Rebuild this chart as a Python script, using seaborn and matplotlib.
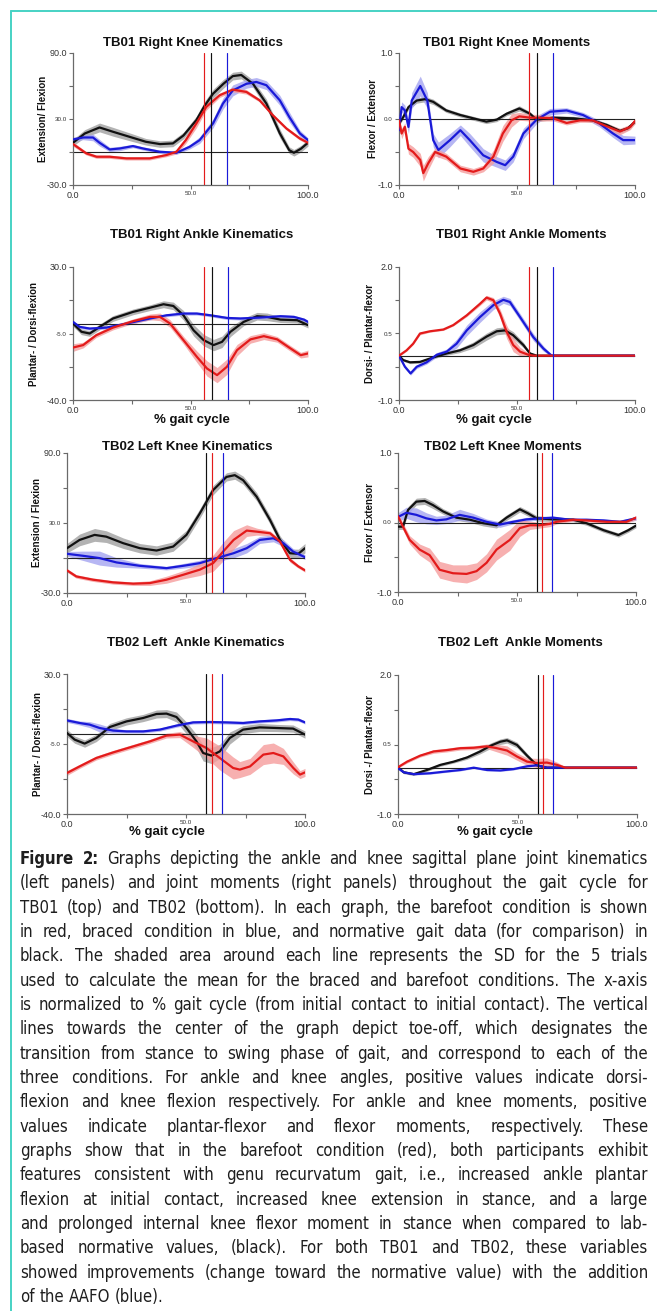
import numpy as np
import matplotlib
matplotlib.use("Agg")
import matplotlib.pyplot as plt
import seaborn as sns
from matplotlib import font_manager
from matplotlib.font_manager import FontProperties
from matplotlib.lines import Line2D

# ---------------- data ----------------
# TB01 right knee kinematics (deg)
k1_ang_black_x = [0, 5, 11.3, 17, 25, 31, 37, 42.5, 47, 52.5, 56, 59.6, 64, 68, 71.6, 76.6, 82.3, 88, 92, 94, 97, 100]
k1_ang_black_y = [8.4, 16.8, 22.3, 18.4, 13.2, 9.3, 7.2, 7.8, 15, 29, 42, 53, 62, 69, 70, 62, 44, 17, 1.7, -0.7, 3, 8.4]
k1_ang_black_sd = [3, 3.5, 4, 4, 3.5, 3, 3, 3, 3, 3.5, 4, 4, 4, 3.5, 3.5, 3.5, 4, 4, 3, 3, 3, 3]
k1_ang_red_x = [0, 5.7, 10, 15.6, 22.7, 32.6, 39.7, 44, 48, 52.5, 56.7, 62.4, 68, 73.8, 79.4, 85, 90.8, 96.5, 100]
k1_ang_red_y = [7.2, -1.3, -4.3, -4.3, -5.8, -5.8, -2.8, 0.2, 10.8, 26, 41, 51.6, 56.7, 54.6, 47, 33.5, 21.4, 12.3, 8.4]
k1_ang_red_sd = [2, 1.5, 1.5, 1.5, 1.5, 1.5, 1.5, 2, 3, 4, 3, 2, 2, 2, 1.5, 1.5, 1.5, 1.5, 1.5]
k1_ang_blue_x = [0, 4.3, 8.5, 11.3, 15.6, 19.9, 25.5, 29.8, 36.9, 44, 49.6, 53.9, 59.6, 63.8, 68, 73.8, 78, 82.3, 88, 92, 96.5, 100]
k1_ang_blue_y = [11.4, 13.2, 13.2, 8.4, 2.3, 3.2, 5.4, 3.2, 0.2, -0.7, 4.7, 10.8, 26, 44, 56, 62, 63.7, 60.7, 47, 32, 17, 10.8]
k1_ang_blue_sd = [2, 2, 3, 3, 2, 2, 1.5, 1.5, 1.5, 1.5, 2, 3, 4, 5, 5, 4, 4, 4, 4.5, 4.5, 3, 2]

# TB01 right knee moments
k1_mom_black_x = [0, 1.8, 4, 7.5, 11, 14.5, 20, 26, 31.5, 37, 41.4, 45.6, 51, 55.5, 58.3, 65.4, 74, 82, 88, 93.6, 97, 100]
k1_mom_black_y = [-0.07, 0.03, 0.18, 0.28, 0.30, 0.26, 0.13, 0.06, 0.01, -0.04, -0.01, 0.08, 0.16, 0.08, -0.01, 0.02, 0.01, -0.02, -0.09, -0.18, -0.14, -0.04]
k1_mom_black_sd = [0.03, 0.03, 0.04, 0.04, 0.04, 0.04, 0.03, 0.03, 0.03, 0.03, 0.03, 0.03, 0.04, 0.03, 0.03, 0.03, 0.03, 0.03, 0.03, 0.03, 0.03, 0.03]
k1_mom_red_x = [0, 1.1, 2.5, 4, 6, 9, 10.3, 12.4, 15.3, 20, 26, 31.5, 35.7, 40, 44, 47.7, 51, 55.5, 59.7, 65.4, 71, 76.7, 82, 88, 93.6, 98, 100]
k1_mom_red_y = [-0.02, -0.22, -0.12, -0.45, -0.50, -0.62, -0.82, -0.67, -0.50, -0.57, -0.75, -0.80, -0.75, -0.57, -0.22, -0.02, 0.04, 0.02, 0.02, 0.01, -0.06, -0.02, -0.02, -0.11, -0.19, -0.12, -0.03]
k1_mom_red_sd = [0.05, 0.08, 0.06, 0.08, 0.08, 0.1, 0.12, 0.1, 0.06, 0.05, 0.05, 0.05, 0.05, 0.1, 0.12, 0.1, 0.06, 0.05, 0.05, 0.04, 0.03, 0.03, 0.03, 0.04, 0.05, 0.04, 0.04]
k1_mom_blue_x = [0, 1.1, 2.5, 4, 5.4, 9, 12, 14.5, 16.7, 21.6, 26, 30, 35.7, 41.4, 45, 48.4, 52.7, 58.3, 64, 71, 78, 85, 90.7, 95, 100]
k1_mom_blue_y = [-0.17, 0.18, 0.13, -0.12, 0.28, 0.50, 0.28, -0.32, -0.47, -0.32, -0.17, -0.32, -0.55, -0.65, -0.70, -0.57, -0.22, -0.01, 0.11, 0.13, 0.06, -0.07, -0.22, -0.32, -0.32]
k1_mom_blue_sd = [0.06, 0.08, 0.08, 0.1, 0.12, 0.15, 0.12, 0.1, 0.12, 0.1, 0.08, 0.1, 0.1, 0.08, 0.08, 0.08, 0.08, 0.06, 0.05, 0.04, 0.04, 0.05, 0.06, 0.07, 0.06]

# TB01 right ankle kinematics (deg)
a1_ang_black_x = [0, 3.6, 7.1, 11.4, 17, 25.6, 32.8, 38.5, 42.7, 47, 51.3, 55.6, 59.8, 63.4, 67, 72.6, 78.3, 82.6, 88.3, 95.4, 100]
a1_ang_black_y = [0.25, -4.1, -5, -1.5, 2.9, 6.4, 8.6, 10.4, 9.5, 4.6, -3.3, -8.5, -11.1, -9.4, -4.1, 1.1, 4.1, 3.75, 2.3, 2.0, -0.6]
a1_ang_black_sd = [1.5, 1.5, 1.5, 1.5, 1.5, 1.5, 1.5, 1.8, 2, 2.5, 3, 3, 3, 3, 2.5, 2, 2, 2, 1.5, 1.5, 1.5]
a1_ang_red_x = [0, 4.3, 9.9, 17, 25.6, 32.8, 37, 41.3, 47, 52.7, 57, 61.3, 65.5, 69.8, 75.5, 81.2, 86.9, 92.6, 96.9, 100]
a1_ang_red_y = [-12.4, -11.1, -5.9, -1.9, 1.5, 3.75, 3.75, 0.25, -8.5, -17.25, -23.4, -26.9, -22.5, -13.75, -8.1, -6.4, -8.1, -12.9, -16.4, -15.5]
a1_ang_red_sd = [2, 1.5, 1.2, 1.2, 1.2, 1.5, 2, 2, 2, 3, 4, 4, 4, 3, 2, 1.8, 1.5, 1.5, 1.5, 1.8]
a1_ang_blue_x = [0, 2.8, 7.1, 14.2, 22.8, 32.8, 39.9, 47, 52.7, 58.4, 65.5, 71.2, 79.8, 88.3, 94, 98.3, 100]
a1_ang_blue_y = [1.1, -1.5, -2.4, -1.9, 0.25, 2.9, 4.6, 5.5, 5.5, 4.6, 3.2, 2.9, 3.4, 4.1, 3.75, 2.3, 1.1]
a1_ang_blue_sd = [0.8, 0.8, 0.8, 0.8, 0.8, 0.8, 0.8, 0.8, 0.8, 0.8, 0.8, 0.8, 0.8, 0.8, 0.8, 0.8, 0.8]

# TB01 right ankle moments
a1_mom_black_x = [0, 1.8, 4.7, 8.9, 14.5, 20.2, 25.8, 31.5, 37.1, 41.4, 44.9, 48.4, 52.7, 55.5, 58.3, 100]
a1_mom_black_y = [0.0, -0.1, -0.15, -0.14, -0.04, 0.05, 0.12, 0.24, 0.43, 0.55, 0.57, 0.46, 0.24, 0.05, 0.0, 0.0]
a1_mom_black_sd = [0.02, 0.03, 0.03, 0.03, 0.03, 0.04, 0.05, 0.07, 0.08, 0.08, 0.08, 0.08, 0.06, 0.03, 0.01, 0.01]
a1_mom_red_x = [0, 3.2, 6, 8.9, 13.1, 18.8, 23, 28.7, 34.3, 37.1, 40, 42.8, 45.6, 48.4, 51.3, 54.8, 56.9, 100]
a1_mom_red_y = [0, 0.12, 0.27, 0.5, 0.55, 0.59, 0.69, 0.91, 1.17, 1.31, 1.25, 0.95, 0.54, 0.24, 0.09, 0.02, 0, 0]
a1_mom_red_sd = [0.02, 0.02, 0.02, 0.03, 0.02, 0.02, 0.02, 0.03, 0.04, 0.05, 0.06, 0.1, 0.15, 0.15, 0.1, 0.04, 0.01, 0.01]
a1_mom_blue_x = [0, 2.5, 4.9, 7.5, 11.7, 16, 20.2, 24.4, 28.7, 34.3, 40, 44.2, 47, 51.3, 56.9, 61.2, 64.7, 100]
a1_mom_blue_y = [0, -0.25, -0.4, -0.25, -0.15, 0.02, 0.09, 0.27, 0.57, 0.87, 1.14, 1.26, 1.21, 0.87, 0.42, 0.16, 0, 0]
a1_mom_blue_sd = [0.02, 0.04, 0.04, 0.04, 0.04, 0.05, 0.06, 0.1, 0.12, 0.12, 0.1, 0.08, 0.08, 0.08, 0.08, 0.06, 0.02, 0.01]

# TB02 left knee kinematics (deg)
k2_ang_black_x = [0, 5.3, 11.6, 16.5, 23.6, 30.6, 37.6, 44.6, 50.2, 55.8, 61.4, 67, 70.5, 74, 79.7, 85.3, 89.5, 93.7, 97.2, 100]
k2_ang_black_y = [8.4, 15.5, 19.8, 18.3, 12.7, 8.4, 6.4, 9.8, 19.8, 38.2, 58.2, 69.5, 71, 66.7, 52.5, 32.6, 15.5, 4.1, 3.6, 8.4]
k2_ang_black_sd = [4, 5, 5.5, 5, 4.5, 4, 4, 4, 4, 4, 4, 3.5, 3.5, 3.5, 3.5, 3.5, 3.5, 3.5, 4, 4]
k2_ang_red_x = [0, 3.9, 10.9, 19.4, 27.8, 34.8, 41.8, 48.8, 55.8, 61.4, 65.6, 70, 75.5, 79.7, 85.3, 89.5, 93.7, 97.2, 100]
k2_ang_red_y = [-10.6, -15.8, -18.6, -20.9, -22, -21.5, -18.6, -14.4, -10, -4.4, 5.5, 15.5, 23.5, 22.6, 21.2, 14.1, -1.6, -7.2, -10.6]
k2_ang_red_sd = [1.5, 1.5, 1.5, 1.5, 1.5, 2, 3, 3.5, 5, 7, 8, 8, 5, 3, 2, 2, 2, 1.5, 1.5]
k2_ang_blue_x = [0, 6.7, 13.7, 20.8, 30.6, 41.8, 48.8, 55.8, 62.8, 70, 75.5, 81, 86.7, 90.9, 95, 100]
k2_ang_blue_y = [3.6, 1.9, -0.1, -3.8, -6.7, -8.7, -6.7, -4.4, -0.1, 4.1, 8.4, 15.5, 16.9, 12.7, 5.5, 0.7]
k2_ang_blue_sd = [2, 4, 6, 4, 2, 1.5, 2, 2.5, 3, 4, 4, 3, 3, 3, 2.5, 2]

# TB02 left knee moments
k2_mom_black_x = [0, 2.1, 4.2, 7.7, 11.2, 14.7, 18.9, 24.5, 30.2, 35.8, 41.4, 45.6, 51.2, 54.7, 58.2, 65.2, 73.6, 79.2, 86.3, 92.6, 96.8, 100]
k2_mom_black_y = [-0.06, -0.06, 0.18, 0.30, 0.31, 0.25, 0.16, 0.07, 0.04, -0.01, -0.04, 0.07, 0.19, 0.13, 0.06, 0.045, 0.04, -0.01, -0.11, -0.18, -0.11, -0.045]
k2_mom_black_sd = [0.04, 0.04, 0.05, 0.05, 0.05, 0.05, 0.04, 0.04, 0.04, 0.04, 0.04, 0.04, 0.04, 0.04, 0.04, 0.03, 0.03, 0.03, 0.03, 0.03, 0.03, 0.03]
k2_mom_red_x = [0, 2.1, 4.9, 9.1, 13.3, 17.5, 23.1, 28.8, 33, 37.2, 41.4, 47, 51.2, 55.4, 59.6, 63.8, 66.6, 73.6, 79.2, 87.7, 96, 100]
k2_mom_red_y = [0.09, -0.06, -0.25, -0.39, -0.47, -0.68, -0.73, -0.74, -0.70, -0.58, -0.39, -0.25, -0.08, -0.04, -0.04, -0.02, 0.01, 0.04, 0.03, 0.01, 0.01, 0.07]
k2_mom_red_sd = [0.04, 0.05, 0.06, 0.08, 0.1, 0.12, 0.12, 0.13, 0.12, 0.13, 0.15, 0.15, 0.12, 0.06, 0.04, 0.04, 0.03, 0.02, 0.02, 0.02, 0.02, 0.03]
k2_mom_blue_x = [0, 3.5, 7.7, 11.9, 16.1, 20.3, 25.9, 31.6, 37.2, 42.8, 48.4, 54, 59.6, 65.2, 72.2, 79.2, 86.3, 93.3, 100]
k2_mom_blue_y = [0.08, 0.14, 0.11, 0.06, 0.03, 0.045, 0.11, 0.07, 0.01, -0.03, 0.01, 0.045, 0.06, 0.07, 0.04, 0.04, 0.03, 0.01, 0.06]
k2_mom_blue_sd = [0.06, 0.08, 0.1, 0.08, 0.06, 0.06, 0.08, 0.06, 0.04, 0.04, 0.03, 0.03, 0.02, 0.02, 0.02, 0.02, 0.02, 0.02, 0.03]

# TB02 left ankle kinematics (deg)
a2_ang_black_x = [0, 3.2, 7.4, 12.3, 18, 25, 32, 37.6, 41.8, 46, 50.2, 54.4, 57.2, 60.7, 64.2, 68.4, 74, 81, 88.1, 95, 100]
a2_ang_black_y = [0.5, -2.8, -4.8, -2, 3.5, 6.3, 8, 10, 10.2, 8.5, 3, -3.7, -9.5, -10.8, -8.7, -2, 2.2, 3.3, 3, 2.7, -0.3]
a2_ang_black_sd = [1.8, 1.8, 1.8, 1.8, 1.8, 1.8, 1.8, 2, 2, 2.5, 3, 3.5, 4, 4, 3.5, 3, 2, 2, 1.8, 1.8, 1.8]
a2_ang_red_x = [0, 5.3, 12.3, 19.4, 27.8, 34.8, 41.8, 47.4, 53, 58.6, 64.2, 69.8, 72.6, 76.9, 82.5, 86.7, 90.9, 95.1, 97.9, 100]
a2_ang_red_y = [-19.5, -16.2, -12, -9.2, -6.2, -3.7, -0.8, -0.3, -3.7, -7, -12, -17, -17.8, -16.2, -10.3, -9.5, -11.2, -17, -20.3, -19.2]
a2_ang_red_sd = [1.2, 1, 1, 1, 1, 1, 1.2, 1.5, 3, 5, 6, 5.5, 4, 4, 5, 5, 4, 3, 2, 2]
a2_ang_blue_x = [0, 5.3, 9.5, 13.7, 19.4, 25, 32, 39, 46, 53, 60, 67, 74, 81, 88.1, 93.7, 97.2, 100]
a2_ang_blue_y = [6.8, 5.5, 4.7, 3, 1.7, 1.3, 1.3, 2.2, 4.2, 5.8, 6, 5.8, 5.5, 6.3, 6.8, 7.5, 7.2, 5.8]
a2_ang_blue_sd = [1, 1, 1.5, 2, 1.2, 0.8, 0.8, 0.8, 0.8, 0.8, 0.8, 0.8, 0.8, 0.8, 0.8, 0.8, 0.8, 0.8]

# TB02 left ankle moments
a2_mom_black_x = [0, 2.4, 6.6, 12.1, 17.7, 23.3, 28.9, 34.4, 38.6, 42.8, 45.6, 49.8, 54, 58.2, 62.3, 100]
a2_mom_black_y = [0.01, -0.10, -0.14, -0.05, 0.06, 0.13, 0.22, 0.35, 0.47, 0.56, 0.59, 0.49, 0.26, 0.05, 0.0, 0.0]
a2_mom_black_sd = [0.02, 0.03, 0.03, 0.03, 0.03, 0.03, 0.04, 0.05, 0.06, 0.06, 0.06, 0.06, 0.05, 0.03, 0.01, 0.01]
a2_mom_red_x = [0, 3.8, 9.3, 14.9, 20.5, 26.1, 31.7, 37.2, 41.4, 45.6, 49.8, 54, 58.2, 62.3, 66.5, 70, 100]
a2_mom_red_y = [0.01, 0.13, 0.26, 0.35, 0.38, 0.42, 0.43, 0.46, 0.42, 0.37, 0.24, 0.13, 0.10, 0.11, 0.06, 0.0, 0.0]
a2_mom_red_sd = [0.02, 0.03, 0.03, 0.04, 0.04, 0.04, 0.04, 0.05, 0.08, 0.1, 0.08, 0.08, 0.1, 0.1, 0.06, 0.02, 0.01]
a2_mom_blue_x = [0, 2.4, 6.6, 13.5, 20.5, 26.1, 31.7, 37.2, 42.8, 48.4, 54, 58.2, 62.3, 100]
a2_mom_blue_y = [-0.01, -0.10, -0.14, -0.12, -0.08, -0.05, 0.0, -0.05, -0.06, -0.03, 0.03, 0.05, 0.0, 0.0]
a2_mom_blue_sd = [0.02, 0.02, 0.02, 0.02, 0.02, 0.02, 0.02, 0.02, 0.02, 0.02, 0.02, 0.02, 0.01, 0.01]

# toe-off (% gait cycle): red, black, blue
k1_ang_toe = [55.6, 58.9, 65.5]
k1_mom_toe = [55.2, 58.3, 65.1]
a1_ang_toe = [55.8, 59.1, 65.8]
a1_mom_toe = [55.2, 58.3, 65.1]
k2_ang_toe = [60.9, 58.6, 65.4]
k2_mom_toe = [60.6, 58.6, 64.9]
a2_ang_toe = [60.9, 58.6, 65.2]
a2_mom_toe = [60.5, 58.4, 64.9]

x_ticks = [0, 25, 50, 75, 100]
x_ticklabels = ["0.0", "", "50.0", "", "100.0"]

caption_lines = [
    "Figure 2: Graphs depicting the ankle and knee sagittal plane joint kinematics",
    "(left panels) and joint moments (right panels) throughout the gait cycle for",
    "TB01 (top) and TB02 (bottom). In each graph, the barefoot condition is shown",
    "in red, braced condition in blue, and normative gait data (for comparison) in",
    "black. The shaded area around each line represents the SD for the 5 trials",
    "used to calculate the mean for the braced and barefoot conditions. The x-axis",
    "is normalized to % gait cycle (from initial contact to initial contact). The vertical",
    "lines towards the center of the graph depict toe-off, which designates the",
    "transition from stance to swing phase of gait, and correspond to each of the",
    "three conditions.  For ankle and knee angles, positive values indicate dorsi-",
    "flexion and knee flexion respectively. For ankle and knee moments, positive",
    "values indicate plantar-flexor and flexor moments, respectively. These",
    "graphs show that in the barefoot condition (red), both participants exhibit",
    "features consistent with genu recurvatum gait, i.e., increased ankle plantar",
    "flexion at initial contact, increased knee extension in stance, and a large",
    "and prolonged internal knee flexor moment in stance when compared to lab-",
    "based normative values, (black). For both TB01 and TB02, these variables",
    "showed improvements (change toward the normative value) with the addition",
    "of the AAFO (blue).",
]

# ---------------- styling ----------------
sns.set_theme(style="white")
plt.rcParams["font.family"] = ["Liberation Sans", "DejaVu Sans"]

W, H = 657, 1311
LINE = {"red": "#e31b1b", "blue": "#1a1ad8", "black": "#111111"}
BAND = {"red": "#f59c9c", "blue": "#a4a4f0", "black": "#a0a0a0"}
AXIS_GREY = "#6a6a6a"

fig = plt.figure(figsize=(W / 100, H / 100), dpi=100)
fig.patch.set_facecolor("white")


def px_axes(left, top, right, bottom):
    return fig.add_axes([left / W, 1 - bottom / H, (right - left) / W, (bottom - top) / H])


def draw_panel(box, title, title_xy, ylabel, ylabel_x, ylim, yticks, yticklabels,
               series, toe, xlabel_xy=None):
    ax = px_axes(*box)
    order = ["black", "blue", "red"]
    for name in order:
        x, y, sd = (np.array(v, dtype=float) for v in series[name])
        ax.fill_between(x, y - sd, y + sd, color=BAND[name], lw=0, alpha=0.8, zorder=1)
    for name in order:
        x, y, _ = series[name]
        sns.lineplot(x=x, y=y, ax=ax, color=LINE[name], lw=1.6, sort=False,
                     estimator=None, zorder=3)
    ax.axhline(0, color="#222222", lw=0.8, zorder=2)
    for name, xv in zip(["red", "black", "blue"], toe):
        ax.axvline(xv, color=LINE[name], lw=0.85, zorder=4)

    ax.set_xlim(0, 100)
    ax.set_ylim(*ylim)
    ax.set_xticks(x_ticks)
    ax.set_xticklabels(x_ticklabels)
    ax.set_yticks(yticks)
    ax.set_yticklabels(yticklabels)
    ax.set_xlabel("")
    ax.set_ylabel("")
    for i, lab in enumerate(ax.get_xticklabels()):
        lab.set_fontsize(6.5 if i in (0, 4) else 4.5)
        lab.set_color("#333333")
    for i, lab in enumerate(ax.get_yticklabels()):
        lab.set_fontsize(6.5 if i in (0, 4) else 4.5)
        lab.set_color("#333333")
    ax.tick_params(axis="both", direction="out", length=3, width=0.8,
                   color=AXIS_GREY, pad=1.5, bottom=True, left=True)
    for side in ["top", "right"]:
        ax.spines[side].set_visible(False)
    for side in ["left", "bottom"]:
        ax.spines[side].set_color(AXIS_GREY)
        ax.spines[side].set_linewidth(0.9)
    ax.set_facecolor("none")

    fig.text(title_xy[0] / W, 1 - title_xy[1] / H, title, ha="center", va="center",
             fontsize=9.5, fontweight="bold", color="#111111")
    fig.text(ylabel_x / W, 1 - (box[1] + box[3]) / 2 / H, ylabel, rotation=90,
             ha="center", va="center", fontsize=7, fontweight="bold", color="#111111")
    if xlabel_xy is not None:
        fig.text(xlabel_xy[0] / W, 1 - xlabel_xy[1] / H, "% gait cycle", ha="center",
                 va="center", fontsize=9.5, fontweight="bold", color="#111111")
    return ax


draw_panel((73, 53, 308, 185), "TB01 Right Knee Kinematics", (193, 43),
           "Extension/ Flexion", 43, (-30, 90), [90, 60, 30, 0, -30],
           ["90.0", "", "30.0", "", "-30.0"],
           {"black": (k1_ang_black_x, k1_ang_black_y, k1_ang_black_sd),
            "red": (k1_ang_red_x, k1_ang_red_y, k1_ang_red_sd),
            "blue": (k1_ang_blue_x, k1_ang_blue_y, k1_ang_blue_sd)}, k1_ang_toe)

draw_panel((399, 53, 635, 185), "TB01 Right Knee Moments", (507, 43),
           "Flexor / Extensor", 373, (-1, 1), [1, 0.5, 0, -0.5, -1],
           ["1.0", "", "0.0", "", "-1.0"],
           {"black": (k1_mom_black_x, k1_mom_black_y, k1_mom_black_sd),
            "red": (k1_mom_red_x, k1_mom_red_y, k1_mom_red_sd),
            "blue": (k1_mom_blue_x, k1_mom_blue_y, k1_mom_blue_sd)}, k1_mom_toe)

draw_panel((73, 267, 308, 400), "TB01 Right Ankle Kinematics", (202, 235),
           "Plantar- / Dorsi-flexion", 34, (-40, 30), [30, 12.5, -5, -22.5, -40],
           ["30.0", "", "-5.0", "", "-40.0"],
           {"black": (a1_ang_black_x, a1_ang_black_y, a1_ang_black_sd),
            "red": (a1_ang_red_x, a1_ang_red_y, a1_ang_red_sd),
            "blue": (a1_ang_blue_x, a1_ang_blue_y, a1_ang_blue_sd)}, a1_ang_toe,
           xlabel_xy=(192, 420))

draw_panel((399, 267, 635, 400), "TB01 Right Ankle Moments", (521, 235),
           "Dorsi- / Plantar-flexor", 370, (-1, 2), [2, 1.25, 0.5, -0.25, -1],
           ["2.0", "", "0.5", "", "-1.0"],
           {"black": (a1_mom_black_x, a1_mom_black_y, a1_mom_black_sd),
            "red": (a1_mom_red_x, a1_mom_red_y, a1_mom_red_sd),
            "blue": (a1_mom_blue_x, a1_mom_blue_y, a1_mom_blue_sd)}, a1_mom_toe,
           xlabel_xy=(494, 420))

draw_panel((67, 453, 305, 593), "TB02 Left Knee Kinematics", (187, 447),
           "Extension / Flexion", 37, (-30, 90), [90, 60, 30, 0, -30],
           ["90.0", "", "30.0", "", "-30.0"],
           {"black": (k2_ang_black_x, k2_ang_black_y, k2_ang_black_sd),
            "red": (k2_ang_red_x, k2_ang_red_y, k2_ang_red_sd),
            "blue": (k2_ang_blue_x, k2_ang_blue_y, k2_ang_blue_sd)}, k2_ang_toe)

draw_panel((398, 453, 636, 592), "TB02 Left Knee Moments", (503, 447),
           "Flexor / Extensor", 370, (-1, 1), [1, 0.5, 0, -0.5, -1],
           ["1.0", "", "0.0", "", "-1.0"],
           {"black": (k2_mom_black_x, k2_mom_black_y, k2_mom_black_sd),
            "red": (k2_mom_red_x, k2_mom_red_y, k2_mom_red_sd),
            "blue": (k2_mom_blue_x, k2_mom_blue_y, k2_mom_blue_sd)}, k2_mom_toe)

draw_panel((67, 674, 305, 814), "TB02 Left  Ankle Kinematics", (196, 643),
           "Plantar- / Dorsi-flexion", 38, (-40, 30), [30, 12.5, -5, -22.5, -40],
           ["30.0", "", "-5.0", "", "-40.0"],
           {"black": (a2_ang_black_x, a2_ang_black_y, a2_ang_black_sd),
            "red": (a2_ang_red_x, a2_ang_red_y, a2_ang_red_sd),
            "blue": (a2_ang_blue_x, a2_ang_blue_y, a2_ang_blue_sd)}, a2_ang_toe,
           xlabel_xy=(167, 832))

draw_panel((398, 675, 637, 814), "TB02 Left  Ankle Moments", (520, 643),
           "Dorsi -/ Plantar-flexor", 370, (-1, 2), [2, 1.25, 0.5, -0.25, -1],
           ["2.0", "", "0.5", "", "-1.0"],
           {"black": (a2_mom_black_x, a2_mom_black_y, a2_mom_black_sd),
            "red": (a2_mom_red_x, a2_mom_red_y, a2_mom_red_sd),
            "blue": (a2_mom_blue_x, a2_mom_blue_y, a2_mom_blue_sd)}, a2_mom_toe,
           xlabel_xy=(495, 832))

# teal frame (left and top edges)
teal = "#46d2c4"
fig.add_artist(Line2D([10.5 / W, 10.5 / W], [0, 1 - 10.5 / H], color=teal, lw=1.4,
                      transform=fig.transFigure))
fig.add_artist(Line2D([10.5 / W, 1], [1 - 10.5 / H, 1 - 10.5 / H], color=teal, lw=1.4,
                      transform=fig.transFigure))

# ---------------- justified caption ----------------
fig.canvas.draw()
renderer = fig.canvas.get_renderer()
names = {f.name for f in font_manager.fontManager.ttflist}
if "Liberation Sans Narrow" in names:
    cap_family, cap_stretch = "Liberation Sans Narrow", "normal"
else:
    cap_family, cap_stretch = "DejaVu Sans", "condensed"


def props(size, bold=False):
    return FontProperties(family=cap_family, stretch=cap_stretch, size=size,
                          weight="bold" if bold else "normal")


def w_of(s, prop):
    return renderer.get_text_width_height_descent(s, prop, ismath=False)[0]


left_px, right_px = 20, 648
base = 12.0
widest = 0
for li, line in enumerate(caption_lines):
    words = line.split()
    tot = sum(w_of(wd, props(base, li == 0 and k < 2)) for k, wd in enumerate(words))
    tot += w_of(" ", props(base)) * (len(words) - 1)
    widest = max(widest, tot)
size = min(base, base * (right_px - left_px) / widest * 0.995)

y0, dy = 859, 24.33
for li, line in enumerate(caption_lines):
    words = line.split()
    bolds = [li == 0 and k < 2 for k in range(len(words))]
    widths = [w_of(wd, props(size, b)) for wd, b in zip(words, bolds)]
    if li < len(caption_lines) - 1:
        gap = (right_px - left_px - sum(widths)) / (len(words) - 1)
    else:
        gap = w_of(" ", props(size))
    xpos = left_px
    ypix = y0 + li * dy
    for wd, b, w in zip(words, bolds, widths):
        fig.text(xpos / W, 1 - ypix / H, wd, fontproperties=props(size, b),
                 ha="left", va="center", color="#1e1e1e")
        xpos += w + gap

fig.savefig("out.png", dpi=100, facecolor="white")
